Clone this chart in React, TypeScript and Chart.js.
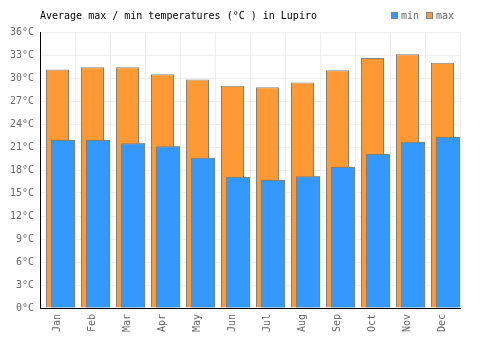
import React, { useEffect, useRef } from "react";
import { Chart, registerables } from "chart.js";

Chart.register(...registerables);

const months = ["Jan", "Feb", "Mar", "Apr", "May", "Jun", "Jul", "Aug", "Sep", "Oct", "Nov", "Dec"];
const minTemps = [21.9, 21.9, 21.5, 21.1, 19.6, 17.1, 16.7, 17.2, 18.4, 20.1, 21.7, 22.3];
const maxTemps = [31.1, 31.4, 31.4, 30.5, 29.8, 29.0, 28.8, 29.4, 31.0, 32.6, 33.1, 32.0];
const spacer = [0, 0, 0, 0, 0, 0, 0, 0, 0, 0, 0, 0];
const yTicks = [0, 3, 6, 9, 12, 15, 18, 21, 24, 27, 30, 33, 36];
const titleText = "Average max / min temperatures (°C ) in Lupiro";

const FONT = "DejaVu Sans Mono";
const BLUE = "#3399ff";
const ORANGE = "#ff9933";
const BORDER = "#808080";
const TEXT = "#666666";

const headerPlugin = {
  id: "header",
  afterDatasetsDraw(chart: any) {
    // draw "min" bars on top of "max" bars
    const meta = chart.getDatasetMeta(0);
    const ctx = chart.ctx;
    ctx.save();
    meta.controller.draw();
    ctx.restore();
  },
  afterDraw(chart: any) {
    const ctx = chart.ctx;
    const area = chart.chartArea;
    ctx.save();
    ctx.font = `10px "${FONT}"`;
    ctx.textBaseline = "middle";
    ctx.textAlign = "left";
    ctx.fillStyle = "#000000";
    ctx.fillText(titleText, area.left, 16);
    const items = [
      { label: chart.data.datasets[0].label, color: BLUE, x: 391 },
      { label: chart.data.datasets[1].label, color: ORANGE, x: 426 },
    ];
    items.forEach((it) => {
      ctx.fillStyle = it.color;
      ctx.fillRect(it.x, 12, 7, 7);
      ctx.strokeStyle = BORDER;
      ctx.lineWidth = 1;
      ctx.strokeRect(it.x + 0.5, 12.5, 6, 6);
      ctx.fillStyle = TEXT;
      ctx.fillText(it.label, it.x + 10, 16);
    });
    ctx.restore();
  },
};

export default function App() {
  const ref = useRef<HTMLCanvasElement>(null);
  useEffect(() => {
    if (!ref.current) return;
    const slot = 16.5 / 34.96;
    const chart = new Chart(ref.current, {
      type: "bar",
      data: {
        labels: months,
        datasets: [
          {
            label: "min",
            data: minTemps,
            backgroundColor: BLUE,
            borderColor: BORDER,
            borderWidth: 1,
            categoryPercentage: slot,
            barPercentage: 4.36,
            order: 2,
          },
          {
            label: "max",
            data: maxTemps,
            backgroundColor: ORANGE,
            borderColor: BORDER,
            borderWidth: 1,
            categoryPercentage: slot,
            barPercentage: 4.18,
            order: 1,
          },
          {
            label: "",
            data: spacer,
            backgroundColor: "rgba(0,0,0,0)",
            borderColor: "rgba(0,0,0,0)",
            borderWidth: 0,
            categoryPercentage: slot,
            barPercentage: 1,
            order: 0,
          },
        ],
      },
      options: {
        animation: false,
        responsive: false,
        maintainAspectRatio: false,
        layout: { padding: { top: 32, right: 40, left: 0, bottom: 0 } },
        plugins: {
          legend: { display: false },
          title: { display: false },
          tooltip: { enabled: false },
        },
        scales: {
          x: {
            grid: { color: "#eeeeee", drawTicks: false, offset: true },
            border: { color: "#000000", width: 1 },
            ticks: {
              font: { family: FONT, size: 10 },
              color: TEXT,
              minRotation: 90,
              maxRotation: 90,
              padding: 6,
            },
            afterFit: (s: any) => {
              s.height = 42;
            },
          },
          y: {
            min: 0,
            max: 36,
            afterBuildTicks: (s: any) => {
              s.ticks = yTicks.map((v) => ({ value: v }));
            },
            grid: { color: "#eeeeee", drawTicks: false },
            border: { color: "#000000", width: 1 },
            ticks: {
              font: { family: FONT, size: 10 },
              color: TEXT,
              padding: 6,
              callback: (v: any) => `${v}°C`,
            },
            afterFit: (s: any) => {
              s.width = 40;
            },
          },
        },
      },
      plugins: [headerPlugin],
    });
    return () => chart.destroy();
  }, []);
  return (
    <div style={{ position: "fixed", left: 0, top: 0, width: 500, height: 350, background: "#fff" }}>
      <canvas ref={ref} width={500} height={350} style={{ width: 500, height: 350 }} />
    </div>
  );
}
